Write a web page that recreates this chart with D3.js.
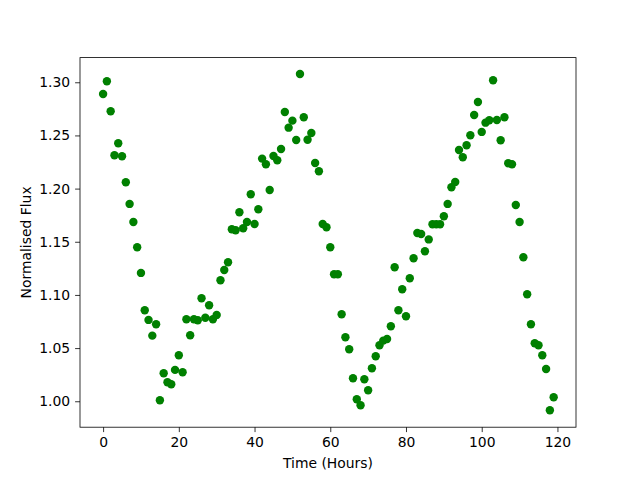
<!DOCTYPE html>
<html>
<head>
<meta charset="utf-8">
<script src="https://cdn.jsdelivr.net/npm/d3@7"></script>
<style>
  html, body { margin: 0; padding: 0; background: #fff; }
  svg { display: block; }
  text { font-family: "DejaVu Sans", sans-serif; }
</style>
</head>
<body>
<svg id="chart" width="640" height="480"></svg>
<script>
// Time in hours (0..119)
const hours = d3.range(0, 120);
// Normalised flux values
const flux = [
  1.2890, 1.3009, 1.2727, 1.2314, 1.2426, 1.2304, 1.2060, 1.1856, 1.1686, 1.1448,
  1.1207, 1.0856, 1.0765, 1.0617, 1.0724, 1.0010, 1.0264, 1.0179, 1.0160, 1.0295,
  1.0433, 1.0273, 1.0771, 1.0621, 1.0771, 1.0762, 1.0969, 1.0786, 1.0903, 1.0771,
  1.0812, 1.1138, 1.1235, 1.1307, 1.1618, 1.1608, 1.1778, 1.1627, 1.1686, 1.1947,
  1.1667, 1.1806, 1.2282, 1.2229, 1.1987, 1.2307, 1.2267, 1.2373, 1.2721, 1.2573,
  1.2639, 1.2457, 1.3078, 1.2671, 1.2460, 1.2523, 1.2241, 1.2163, 1.1667, 1.1636,
  1.1448, 1.1194, 1.1194, 1.0818, 1.0602, 1.0489, 1.0217, 1.0019, 0.9963, 1.0207,
  1.0104, 1.0311, 1.0423, 1.0527, 1.0570, 1.0586, 1.0705, 1.1260, 1.0856, 1.1053,
  1.0800, 1.1157, 1.1345, 1.1583, 1.1573, 1.1411, 1.1522, 1.1665, 1.1665, 1.1665,
  1.1740, 1.1856, 1.2013, 1.2062, 1.2363, 1.2295, 1.2408, 1.2502, 1.2692, 1.2815,
  1.2533, 1.2620, 1.2643, 1.3019, 1.2645, 1.2455, 1.2671, 1.2238, 1.2229, 1.1846,
  1.1686, 1.1354, 1.1006, 1.0724, 1.0546, 1.0527, 1.0433, 1.0304, 0.9916, 1.0038
];
const xTicks = [0, 20, 40, 60, 80, 100, 120];
const yTicks = [1.00, 1.05, 1.10, 1.15, 1.20, 1.25, 1.30];

const svg = d3.select("#chart");
const mLeft = 80, mRight = 576, mTop = 57.6, mBottom = 427.2;

const x = d3.scaleLinear().domain([-6.1, 124.9]).range([mLeft, mRight]);
const y = d3.scaleLinear().domain([0.9756, 1.3232]).range([mBottom, mTop]);

// points
svg.append("g")
  .selectAll("circle")
  .data(hours.map((h, i) => ({h, v: flux[i]})))
  .join("circle")
  .attr("cx", d => x(d.h))
  .attr("cy", d => y(d.v))
  .attr("r", 4.2)
  .attr("fill", "#008000");

// axes
const xAxis = d3.axisBottom(x).tickValues(xTicks).tickFormat(d3.format("d"))
  .tickSizeInner(4.9).tickSizeOuter(0).tickPadding(4.9);
const yAxis = d3.axisLeft(y).tickValues(yTicks).tickFormat(d3.format(".2f"))
  .tickSizeInner(4.9).tickSizeOuter(0).tickPadding(4.9);

const gx = svg.append("g").attr("transform", `translate(0,${mBottom})`).call(xAxis);
const gy = svg.append("g").attr("transform", `translate(${mLeft},0)`).call(yAxis);
[gx, gy].forEach(g => {
  g.select(".domain").remove();
  g.selectAll("line").attr("stroke", "#000").attr("stroke-width", 0.8);
  g.selectAll("text").attr("font-size", "13.9px").attr("fill", "#000")
    .attr("font-family", "DejaVu Sans, sans-serif");
});

// frame
svg.append("rect")
  .attr("x", mLeft).attr("y", mTop)
  .attr("width", mRight - mLeft).attr("height", mBottom - mTop)
  .attr("fill", "none").attr("stroke", "#000").attr("stroke-width", 0.8);

// labels
svg.append("text")
  .attr("x", (mLeft + mRight) / 2).attr("y", 468)
  .attr("text-anchor", "middle").attr("font-size", "13.9px")
  .text("Time (Hours)");
svg.append("text")
  .attr("transform", `translate(31,${(mTop + mBottom) / 2}) rotate(-90)`)
  .attr("text-anchor", "middle").attr("font-size", "13.9px")
  .text("Normalised Flux");
</script>
</body>
</html>
